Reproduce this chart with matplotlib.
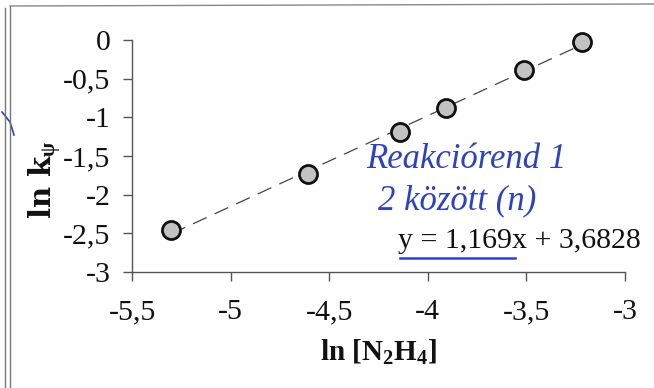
import numpy as np
import matplotlib
matplotlib.use("Agg")
import matplotlib.pyplot as plt
from matplotlib.ticker import FuncFormatter
from matplotlib.lines import Line2D

plt.rcParams['font.family'] = ['Liberation Serif', 'DejaVu Serif']
plt.rcParams['axes.unicode_minus'] = False
plt.rcParams['mathtext.fontset'] = 'custom'
plt.rcParams['mathtext.rm'] = 'Liberation Serif'
plt.rcParams['mathtext.it'] = 'Liberation Serif:italic'
plt.rcParams['mathtext.bf'] = 'Liberation Serif:bold'

# data
ln_n2h4 = [-5.30, -4.61, -4.14, -3.91, -3.51, -3.22]
ln_k = [-2.46, -1.73, -1.19, -0.88, -0.39, -0.03]
eq_text = "y = 1,169x + 3,6828"
note_line1 = "Reakciórend 1"
note_line2 = "2 között (n)"
x_ticks = [-5.5, -5, -4.5, -4, -3.5, -3]
y_ticks = [0, -0.5, -1, -1.5, -2, -2.5, -3]

W, H = 654, 388
fig = plt.figure(figsize=(W / 100, H / 100), dpi=100)
fig.patch.set_facecolor('white')
ax = fig.add_axes([132 / W, 1 - 272 / H, (625 - 132) / W, (272 - 40) / H])
ax.set_xlim(-5.5, -3)
ax.set_ylim(-3, 0)

# trendline over data range
xs = np.array([min(ln_n2h4), max(ln_n2h4)])
p = np.polyfit(ln_n2h4, ln_k, 1)
ax.plot(xs, np.polyval(p, xs), color='#444444', lw=0.9, dashes=(12, 7), zorder=2)

ax.plot(ln_n2h4, ln_k, linestyle='none', marker='o', markersize=13,
        markerfacecolor='#c2c2c2', markeredgecolor='#111111', markeredgewidth=2.0,
        zorder=3, clip_on=False)

fmt = FuncFormatter(lambda v, pos: ('%g' % v).replace('.', ','))
ax.set_xticks(x_ticks)
ax.set_yticks(y_ticks)
ax.xaxis.set_major_formatter(fmt)
ax.yaxis.set_major_formatter(fmt)
for s in ['top', 'right']:
    ax.spines[s].set_visible(False)
for s in ['left', 'bottom']:
    ax.spines[s].set_color('#555555')
    ax.spines[s].set_linewidth(1.0)
ax.tick_params(axis='both', direction='out', length=6.5, width=1.0, color='#555555',
               labelsize=21.5, labelcolor='#111111')
ax.tick_params(axis='x', pad=13)
ax.tick_params(axis='y', pad=9)

fig.text(378 / W, 1 - 352 / H, r'ln [N$_\mathbf{2}$H$_\mathbf{4}$]', fontsize=21,
         fontweight='bold', ha='center', va='center', color='#111111')
fig.text(46 / W, 1 - 180 / H, r'ln k$_\mathbf{\psi}$', fontsize=21, fontweight='bold',
         rotation=90, ha='center', va='center', color='#111111',
         family=['DejaVu Serif'])

fig.text(398 / W, 1 - 241 / H, eq_text, fontsize=21.5, ha='left', va='center', color='#111111')

# handwritten annotations
blue = '#2f42bd'
fig.text(366 / W, 1 - 160 / H, note_line1, fontsize=25, style='italic', color=blue,
         ha='left', va='center')
fig.text(378 / W, 1 - 201 / H, note_line2, fontsize=25, style='italic', color=blue,
         ha='left', va='center')
fig.add_artist(Line2D([400 / W, 515 / W], [1 - 258 / H, 1 - 258 / H], color=blue, lw=1.8))
fig.add_artist(Line2D([2 / W, 10 / W, 14 / W], [1 - 112 / H, 1 - 122 / H, 1 - 135 / H],
                      color=blue, lw=1.2))

# scan frame lines
fig.add_artist(Line2D([5 / W, 5 / W], [0, 1 - 8 / H], color='#777777', lw=1.0))
fig.add_artist(Line2D([10 / W, 10 / W], [0, 1 - 6 / H], color='#777777', lw=1.0))
fig.add_artist(Line2D([10 / W, 1], [1 - 6 / H, 1 - 4 / H], color='#888888', lw=1.0))

fig.savefig('out.png', dpi=100, facecolor='white')
